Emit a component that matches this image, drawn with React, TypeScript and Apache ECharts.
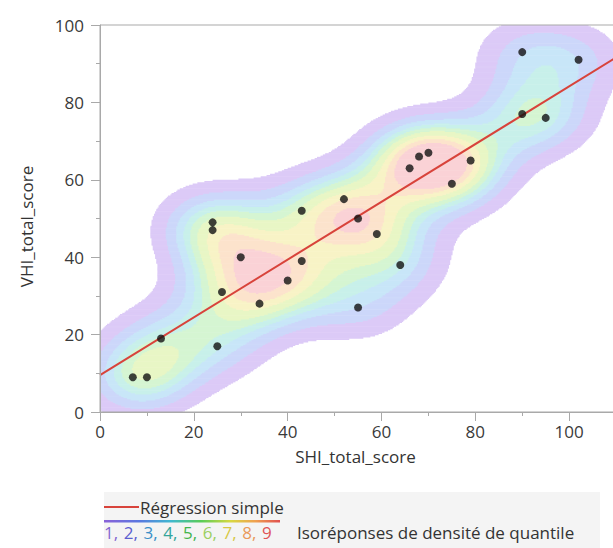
import React, { useEffect, useRef } from "react";
import * as echarts from "echarts";

// ---- data ----
const shiScores = [7, 10, 13, 25, 24, 24, 26, 30, 34, 40, 43, 43, 52, 55, 59, 55, 64, 66, 68, 70, 75, 79, 90, 90, 95, 102];
const vhiScores = [9, 9, 19, 17, 49, 47, 31, 40, 28, 34, 52, 39, 55, 50, 46, 27, 38, 63, 66, 67, 59, 65, 93, 77, 76, 91];
const quantileLevels = [0.1, 0.2, 0.3, 0.4, 0.5, 0.6, 0.7, 0.8, 0.9];
const levelLabels = ["1", "2", "3", "4", "5", "6", "7", "8", "9"];
const levelFills = ["#dccaf7", "#ccd7fa", "#c8e6f8", "#c8f0ea", "#d5f5d2", "#e8f6c5", "#f8f3c6", "#fce3cc", "#fad2d6"];
const levelTextColors = ["#8466d2", "#5c5fd0", "#3a8fc8", "#35a59a", "#45b54c", "#9ccf62", "#d7c845", "#e99a5a", "#df5555"];
const regressionLabel = "Régression simple";
const contourLabel = "Isoréponses de densité de quantile";
const xName = "SHI_total_score";
const yName = "VHI_total_score";

const FONT = "'Open Sans', 'Noto Sans', sans-serif";

function regression() {
  const n = shiScores.length;
  const mx = shiScores.reduce((a, b) => a + b, 0) / n;
  const my = vhiScores.reduce((a, b) => a + b, 0) / n;
  let sxy = 0, sxx = 0;
  for (let i = 0; i < n; i++) {
    sxy += (shiScores[i] - mx) * (vhiScores[i] - my);
    sxx += (shiScores[i] - mx) ** 2;
  }
  const slope = sxy / sxx;
  return { slope, intercept: my - slope * mx };
}

function densityRuns(xMax: number) {
  const hx = 8.5, hy = 7.5;
  const gx0 = -40, gx1 = 160, dx = 0.25;
  const gy0 = -40, gy1 = 140, dy = 0.3125;
  const nc = Math.round((gx1 - gx0) / dx);
  const nr = Math.round((gy1 - gy0) / dy);
  const n = shiScores.length;
  const kx = new Float64Array(n * nc);
  const ky = new Float64Array(n * nr);
  for (let i = 0; i < n; i++) {
    for (let c = 0; c < nc; c++) {
      const u = (gx0 + (c + 0.5) * dx - shiScores[i]) / hx;
      kx[i * nc + c] = Math.exp(-0.5 * u * u);
    }
    for (let r = 0; r < nr; r++) {
      const v = (gy0 + (r + 0.5) * dy - vhiScores[i]) / hy;
      ky[i * nr + r] = Math.exp(-0.5 * v * v);
    }
  }
  const f = new Float64Array(nr * nc);
  for (let r = 0; r < nr; r++) {
    for (let c = 0; c < nc; c++) {
      let s = 0;
      for (let i = 0; i < n; i++) s += kx[i * nc + c] * ky[i * nr + r];
      f[r * nc + c] = s;
    }
  }
  const sorted = Float64Array.from(f).sort();
  let total = 0;
  for (let k = 0; k < sorted.length; k++) total += sorted[k];
  const thresholds: number[] = [];
  let cum = 0, li = 0;
  for (let k = 0; k < sorted.length && li < quantileLevels.length; k++) {
    cum += sorted[k];
    while (li < quantileLevels.length && cum >= quantileLevels[li] * total) {
      thresholds.push(sorted[k]);
      li++;
    }
  }
  const runs: number[][] = [];
  for (let r = 0; r < nr; r++) {
    const yb = gy0 + r * dy;
    const yt = yb + dy;
    if (yt <= 0 || yb >= 100) continue;
    let cur = 0, start = 0;
    for (let c = 0; c <= nc; c++) {
      const xl = gx0 + c * dx;
      let lvl = 0;
      if (c < nc && xl >= 0 && xl < xMax) {
        const v = f[r * nc + c];
        while (lvl < thresholds.length && v >= thresholds[lvl]) lvl++;
      }
      if (lvl !== cur) {
        if (cur > 0) runs.push([start, xl, Math.max(yb, 0), Math.min(yt, 100), cur]);
        cur = lvl;
        start = xl;
      }
    }
  }
  return runs;
}

export default function App() {
  const ref = useRef<HTMLDivElement>(null);
  useEffect(() => {
    if (!ref.current) return;
    const chart = echarts.init(ref.current, null, { renderer: "svg" });
    const xMax = 120;
    const { slope, intercept } = regression();
    const runs = densityRuns(xMax);
    const points = shiScores.map((x, i) => [x, vhiScores[i]]);

    const richStyles: Record<string, any> = {};
    let richText = "";
    levelLabels.forEach((lab, i) => {
      richStyles["l" + i] = { fill: levelTextColors[i], fontSize: 17, fontFamily: FONT, width: 19.75 };
      richText += `{l${i}|${lab}${i < levelLabels.length - 1 ? "," : ""}}`;
    });

    chart.setOption({
      animation: false,
      backgroundColor: "#ffffff",
      grid: {
        left: 100,
        top: 25,
        width: 563,
        height: 387,
        show: true,
        borderColor: "#a9a9a9",
        borderWidth: 1,
        backgroundColor: "transparent",
        z: 10,
      },
      xAxis: {
        type: "value",
        min: 0,
        max: xMax,
        interval: 20,
        z: 10,
        name: xName,
        nameLocation: "middle",
        nameGap: 36,
        nameTextStyle: { fontSize: 17, color: "#333", fontFamily: FONT, padding: [0, 52, 0, 0] },
        axisLine: { show: true, onZero: false, lineStyle: { color: "#a9a9a9", width: 1 } },
        axisTick: { show: true, length: 9, lineStyle: { color: "#a9a9a9" } },
        minorTick: { show: true, splitNumber: 2, length: 4, lineStyle: { color: "#a9a9a9" } },
        splitLine: { show: false },
        axisLabel: { fontSize: 17, color: "#3a3a3a", fontFamily: FONT, margin: 11, showMaxLabel: false },
      },
      yAxis: {
        type: "value",
        min: 0,
        max: 100,
        interval: 20,
        z: 10,
        name: yName,
        nameLocation: "middle",
        nameGap: 65,
        nameRotate: 90,
        nameTextStyle: { fontSize: 17, color: "#333", fontFamily: FONT, padding: [0, 16, 0, 0] },
        axisLine: { show: true, onZero: false, lineStyle: { color: "#a9a9a9", width: 1 } },
        axisTick: { show: true, length: 9, lineStyle: { color: "#a9a9a9" } },
        minorTick: { show: true, splitNumber: 2, length: 4, lineStyle: { color: "#a9a9a9" } },
        splitLine: { show: false },
        axisLabel: { fontSize: 17, color: "#3a3a3a", fontFamily: FONT, margin: 16 },
      },
      series: [
        {
          type: "custom",
          name: "density",
          clip: true,
          progressive: 0,
          silent: true,
          z: 1,
          data: runs,
          renderItem: (params: any, api: any) => {
            const a = api.coord([api.value(0), api.value(3)]);
            const b = api.coord([api.value(1), api.value(2)]);
            return {
              type: "rect",
              shape: { x: a[0], y: a[1], width: b[0] - a[0] + 0.6, height: b[1] - a[1] + 0.6 },
              style: { fill: levelFills[api.value(4) - 1] },
            };
          },
        },
        {
          type: "line",
          name: regressionLabel,
          data: [
            [0, intercept],
            [xMax, intercept + slope * xMax],
          ],
          showSymbol: false,
          symbol: "none",
          lineStyle: { color: "#d8433b", width: 2 },
          z: 3,
        },
        {
          type: "scatter",
          data: points,
          symbolSize: 8,
          itemStyle: { color: "#111111" },
          z: 4,
        },
      ],
      graphic: [
        { type: "rect", left: 104, top: 492, shape: { width: 496, height: 56 }, style: { fill: "#f4f4f4" }, z: 0 },
        { type: "line", shape: { x1: 104, y1: 507, x2: 139, y2: 507 }, style: { stroke: "#d8433b", lineWidth: 2 }, z: 1 },
        {
          type: "text",
          x: 140,
          y: 507,
          style: { text: regressionLabel, fontSize: 17, fontFamily: FONT, fill: "#333", verticalAlign: "middle" },
          z: 1,
        },
        {
          type: "rect",
          shape: { x: 104, y: 520, width: 176, height: 2.5 },
          style: {
            fill: new echarts.graphic.LinearGradient(0, 0, 1, 0, [
              { offset: 0, color: "#8a62d8" },
              { offset: 0.2, color: "#5a78e0" },
              { offset: 0.38, color: "#40b8d0" },
              { offset: 0.55, color: "#58cc58" },
              { offset: 0.72, color: "#d8d840" },
              { offset: 0.86, color: "#f0a050" },
              { offset: 1, color: "#e05050" },
            ]),
          },
          z: 1,
        },
        {
          type: "text",
          x: 104,
          y: 532,
          style: { text: richText, rich: richStyles, fontSize: 17, fontFamily: FONT, verticalAlign: "middle" },
          z: 1,
        },
        {
          type: "text",
          x: 297,
          y: 532,
          style: { text: contourLabel, fontSize: 17, fontFamily: FONT, fill: "#333", verticalAlign: "middle" },
          z: 1,
        },
      ],
    });
    return () => chart.dispose();
  }, []);
  return (
    <div style={{ position: "absolute", left: 0, top: 0, width: 613, height: 548, overflow: "hidden" }}>
      <div ref={ref} style={{ width: 680, height: 548 }} />
    </div>
  );
}
